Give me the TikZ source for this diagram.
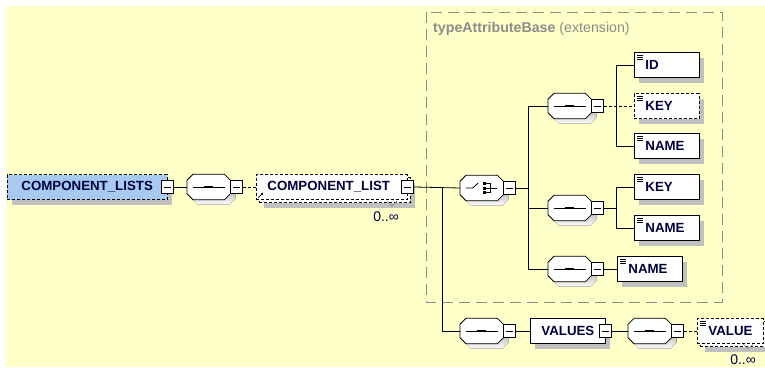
\documentclass[tikz,border=0pt]{standalone}
\usepackage{fontspec}
\setmainfont{Liberation Sans}
\usetikzlibrary{shadows,arrows.meta}

\definecolor{bgyellow}{RGB}{255,255,200}
\definecolor{rootblue}{RGB}{166,202,240}
\definecolor{shade}{RGB}{192,192,192}
\definecolor{ink}{RGB}{0,0,64}
\definecolor{framegray}{RGB}{140,140,140}
\definecolor{tickgray}{RGB}{140,140,140}

% octagon outline round a compositor node, moved by (#2,#3)
\newcommand\octopath[3]{([shift={(6pt+#2,#3)}]#1.north west) -- ([shift={(-6pt+#2,#3)}]#1.north east)
  -- ([shift={(#2,-6pt+#3)}]#1.north east) -- ([shift={(#2,6pt+#3)}]#1.south east)
  -- ([shift={(-6pt+#2,#3)}]#1.south east) -- ([shift={(6pt+#2,#3)}]#1.south west)
  -- ([shift={(#2,6pt+#3)}]#1.south west) -- ([shift={(#2,-6pt+#3)}]#1.north west) -- cycle}

\tikzset{
  link/.style={draw=black, line width=0.8pt},
  optline/.style={link, dash pattern=on 3pt off 2pt},
  shadowed/.style={general shadow={shadow xshift=5pt, shadow yshift=-5pt, fill=shade}},
  elem/.style={draw=black, line width=0.8pt, fill=white, anchor=west,
    minimum height=25pt, inner xsep=11pt, inner ysep=0pt, align=left,
    font=\fontsize{13.3}{15}\selectfont\bfseries, text=ink},
  optional/.style={dash pattern=on 3pt off 2pt},
  simple/.style={path picture={
    \foreach \d in {2.5pt,4.8pt,7.1pt}
      \draw[solid, line width=0.6pt] ([xshift=2.7pt,yshift=-\d]path picture bounding box.north west) -- ++(5.6pt,0pt);}},
  refmark/.style={path picture={
    \draw[solid, line width=0.7pt,-{Latex[length=2.5pt,width=2.5pt]}]
      ([xshift=2pt,yshift=2pt]path picture bounding box.south west) -- ++(5pt,5pt);}},
  compnode/.style={rectangle, minimum width=43pt, minimum height=25pt, inner sep=0pt, anchor=west},
  minusbox/.style={draw=black, line width=0.8pt, fill=white, minimum width=12pt,
    minimum height=13pt, inner sep=0pt, path picture={
    \draw[line width=0.8pt] ([xshift=2.5pt]path picture bounding box.west) -- ([xshift=-2.5pt]path picture bounding box.east);}},
  mult/.style={font=\fontsize{14}{16}\selectfont, text=ink, inner sep=0pt, anchor=east},
  heading/.style={font=\fontsize{14.2}{16}\selectfont, text=framegray, inner sep=0pt, anchor=west}
}

\begin{document}
\begin{tikzpicture}[x=1pt, y=-1pt]
\useasboundingbox (0,0) rectangle (765,367);
\fill[bgyellow] (6,6) rectangle (765,367);

% extension frame of the base type
\draw[framegray, line width=0.8pt, dash pattern=on 11pt off 6pt] (426,12) rectangle (722,302);
\node[heading] (base) at (433,29) {\textbf{typeAttributeBase} (extension)};

% compositors: one choice and six sequences
\node[compnode] (s0) at (187,187) {};
\node[compnode] (ch) at (460,188) {};
\node[compnode] (s1) at (548,106) {};
\node[compnode] (s2) at (548,208) {};
\node[compnode] (s3) at (548,269) {};
\node[compnode] (s4) at (460,331) {};
\node[compnode] (s5) at (628,331) {};

\foreach \n in {s0,ch,s1,s2,s3,s4,s5} {
  \fill[shade] \octopath{\n}{5pt}{-5pt};
  \filldraw[fill=white, draw=black, line width=0.8pt] \octopath{\n}{0pt}{0pt};
}
\foreach \n in {s0,s1,s2,s3,s4,s5} {
  \draw[line width=0.8pt] ([xshift=5.5pt]\n.west) -- ([xshift=-5.5pt]\n.east);
  \foreach \dx in {-3pt,0pt,3pt}
    \fill ([xshift=\dx]\n.center) +(-1.25pt,-1.25pt) rectangle +(1.25pt,1.25pt);
}
\begin{scope}[shift={(ch.center)}, x=1pt, y=1pt, line width=0.8pt]
  \draw (-16,0) -- (-9,0) -- (-3.5,5);
  \foreach \dy in {-4.7,0,4.7} {
    \fill (1.5,\dy-1.5) rectangle ++(3,3);
    \draw (4.5,\dy) -- (8.5,\dy);}
  \draw (8.5,-4.7) -- (8.5,4.7);
  \draw (8.5,0) -- (15.5,0);
\end{scope}

% minus boxes of the compositors
\foreach \n in {s0,ch,s1,s2,s3,s4,s5}
  \node[minusbox, anchor=west] (\n-m) at (\n.east) {};

% root element
\node[elem, optional, shadowed, fill=rootblue, inner xsep=14pt, text width=132pt] (lists) at (7,187) {COMPONENT\_LISTS};
\node[minusbox] (lists-m) at (lists.east) {};

% repeated COMPONENT_LIST
\node[elem, optional, shadowed, text width=129pt] (cl-back) at (259,190) {};
\node[elem, optional, refmark, text width=129pt] (cl) at (256,187) {COMPONENT\_LIST};
\node[minusbox] (cl-m) at (cl.east) {};
\node[mult] (cl-mult) at (399,217) {0..∞};
\draw[tickgray, line width=0.7pt] (387,201) -- (392,206) -- (397,201);

% leaf elements
\node[elem, shadowed, simple, text width=43pt] (id) at (634,65) {ID};
\node[elem, shadowed, simple, optional, text width=43pt] (key1) at (634,106) {KEY};
\node[elem, shadowed, simple, text width=43pt] (name1) at (634,146) {NAME};
\node[elem, shadowed, simple, text width=43pt] (key2) at (634,187) {KEY};
\node[elem, shadowed, simple, text width=43pt] (name2) at (634,228) {NAME};
\node[elem, shadowed, simple, text width=43pt] (name3) at (617,269) {NAME};

% VALUES branch
\node[elem, shadowed, text width=53pt] (values) at (530,331) {VALUES};
\node[minusbox] (values-m) at (values.east) {};
\node[elem, optional, shadowed, text width=44pt] (value-back) at (700,334) {};
\node[elem, optional, simple, text width=44pt] (value) at (697,331) {VALUE};
\node[mult] (value-mult) at (756,360) {0..∞};
\draw[tickgray, line width=0.7pt] (743,344) -- (748,349) -- (753,344);

% connectors
\coordinate (busA) at (442,0);
\coordinate (busB) at (528,0);
\coordinate (busC) at (616,0);
\draw[link] (lists-m.east) -- (s0.west);
\draw[optline] (s0-m.east) -- (cl.west);
\draw[link] (cl-m.east) -- (ch.west);
\draw[link] (cl-m.east -| busA) |- (s4.west);
\draw[link] (ch-m.east) -- (ch-m.east -| busB);
\draw[link] (s1.west -| busB) |- (s3.west);
\draw[link] (s1.west -| busB) -- (s1.west);
\draw[link] (s2.west -| busB) -- (s2.west);
\draw[optline] (s1-m.east) -- (key1.west);
\draw[link] (id.west -| busC) |- (name1.west);
\draw[link] (id.west -| busC) -- (id.west);
\draw[link] (s2-m.east) -- (s2-m.east -| busC);
\draw[link] (key2.west -| busC) |- (name2.west);
\draw[link] (key2.west -| busC) -- (key2.west);
\draw[link] (s3-m.east) -- (name3.west);
\draw[link] (s4-m.east) -- (values.west);
\draw[link] (values-m.east) -- (s5.west);
\draw[optline] (s5-m.east) -- (value.west);
\end{tikzpicture}
\end{document}
